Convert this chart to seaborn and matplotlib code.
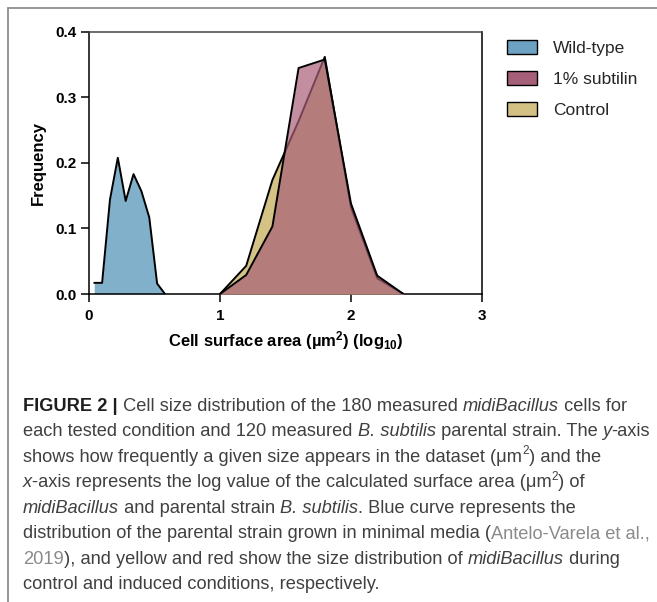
import numpy as np
import pandas as pd
import matplotlib
matplotlib.use("Agg")
import matplotlib.pyplot as plt
import seaborn as sns
from matplotlib.patches import Patch
from matplotlib.lines import Line2D
from matplotlib.font_manager import FontProperties

# ---------------- data ----------------
wt_x = [0.04, 0.10, 0.16, 0.22, 0.28, 0.34, 0.40, 0.46, 0.52, 0.58]
wt_y = [0.017, 0.017, 0.144, 0.208, 0.142, 0.183, 0.157, 0.117, 0.016, 0.0]

ctl_x = [1.0, 1.2, 1.4, 1.6, 1.8, 2.0, 2.2, 2.4]
ctl_y = [0.0, 0.043, 0.174, 0.264, 0.362, 0.132, 0.024, 0.0]

sub_x = [1.0, 1.2, 1.4, 1.6, 1.8, 2.0, 2.2, 2.4]
sub_y = [0.0, 0.029, 0.103, 0.345, 0.358, 0.138, 0.028, 0.0]

series_labels = ["Wild-type", "1% subtilin", "Control"]
x_ticks = [0, 1, 2, 3]
y_ticks = [0.0, 0.1, 0.2, 0.3, 0.4]
y_tick_labels = ["0.0", "0.1", "0.2", "0.3", "0.4"]

# ---------------- style ----------------
sns.set_theme(style="ticks")
plt.rcParams["font.family"] = ["Liberation Sans", "DejaVu Sans"]
plt.rcParams["mathtext.fontset"] = "custom"
plt.rcParams["mathtext.rm"] = "Liberation Sans"
plt.rcParams["mathtext.bf"] = "Liberation Sans:bold"
plt.rcParams["mathtext.it"] = "Liberation Sans:italic"

W, H = 657, 602
fig = plt.figure(figsize=(W / 100, H / 100), dpi=100)
fig.patch.set_facecolor("white")

# frame of the figure panel (gray top and left rule)
frame_col = "#8e8e8e"
fig.add_artist(Line2D([8 / W, 8 / W], [1 - 8 / H, 0], transform=fig.transFigure,
                      color=frame_col, lw=1.3))
fig.add_artist(Line2D([8 / W, 1], [1 - 8 / H, 1 - 8 / H], transform=fig.transFigure,
                      color=frame_col, lw=1.3))

ax = fig.add_axes([89 / W, 1 - 294 / H, 393 / W, 262 / H])
ax.set_facecolor("white")

blue = "#80b0ca"
yellow = "#d5c386"
red = "#a85f78"

# Wild-type
ax.fill_between(wt_x, wt_y, 0, color=blue, lw=0, zorder=2)
sns.lineplot(x=wt_x, y=wt_y, ax=ax, color="black", lw=1.4, sort=False,
             estimator=None, zorder=3)
# Control
ax.fill_between(ctl_x, ctl_y, 0, color=yellow, lw=0, zorder=4)
sns.lineplot(x=ctl_x, y=ctl_y, ax=ax, color="black", lw=1.4, sort=False,
             estimator=None, zorder=5)
# 1% subtilin
ax.fill_between(sub_x, sub_y, 0, color=red, alpha=0.7, lw=0, zorder=6)
sns.lineplot(x=sub_x, y=sub_y, ax=ax, color="black", lw=1.4, sort=False,
             estimator=None, zorder=7)

ax.set_xlim(0, 3)
ax.set_ylim(0, 0.4)
ax.set_xticks(x_ticks)
ax.set_xticklabels([str(v) for v in x_ticks])
ax.set_yticks(y_ticks)
ax.set_yticklabels(y_tick_labels)
for s in ax.spines.values():
    s.set_visible(True)
    s.set_color("black")
    s.set_linewidth(1.1)
ax.spines["top"].set_color("#444444")
ax.tick_params(direction="out", length=6, width=1.1, colors="black",
               labelsize=11)
ax.tick_params(axis="x", pad=5)
ax.tick_params(axis="y", pad=3)
for lbl in ax.get_xticklabels() + ax.get_yticklabels():
    lbl.set_fontweight("bold")

ax.set_xlabel(r"Cell surface area (µm$^{\mathbf{2}}$) (log$_{\mathbf{10}}$)",
              fontsize=12, fontweight="bold", color="black")
ax.set_ylabel("Frequency", fontsize=12, fontweight="bold", color="black")
ax.xaxis.set_label_coords(0.5, (294 - 329) / 262)
ax.yaxis.set_label_coords((46 - 89) / 393, 0.5)

# legend
handles = [Patch(facecolor="#6ea2c2", edgecolor="black", lw=1.0, label=series_labels[0]),
           Patch(facecolor="#a65f79", edgecolor="black", lw=1.0, label=series_labels[1]),
           Patch(facecolor="#d3c083", edgecolor="black", lw=1.0, label=series_labels[2])]
fig.legend(handles=handles, loc="upper left", bbox_to_anchor=(507 / W, 1 - 40 / H),
           frameon=False, fontsize=12.5, handlelength=1.7, handleheight=0.85,
           handletextpad=0.95, labelspacing=0.88, borderpad=0, borderaxespad=0)

# ---------------- caption ----------------
renderer = fig.canvas.get_renderer()
base_col = "#404040"
link_col = "#8a8a8a"


def props(style, size):
    if style == "b":
        return FontProperties(family="Liberation Sans", weight="bold", size=size)
    if style == "i":
        return FontProperties(family="Liberation Sans", style="italic", size=size)
    if style == "sup":
        return FontProperties(family="Liberation Sans", size=size * 0.65)
    return FontProperties(family="Liberation Sans", size=size)


def width(text, fp):
    w1, _, _ = renderer.get_text_width_height_descent("x" + text + "x", fp, ismath=False)
    w0, _, _ = renderer.get_text_width_height_descent("xx", fp, ismath=False)
    return w1 - w0


lines = [
    [("FIGURE 2 |", "b"), (" Cell size distribution of the 180 measured ", "n"),
     ("midiBacillus", "i"), (" cells for", "n")],
    [("each tested condition and 120 measured ", "n"), ("B. subtilis", "i"),
     (" parental strain. The ", "n"), ("y", "i"), ("-axis", "n")],
    [("shows how frequently a given size appears in the dataset (μm", "n"), ("2", "sup"),
     (") and the", "n")],
    [("x", "i"), ("-axis represents the log value of the calculated surface area (μm", "n"),
     ("2", "sup"), (") of", "n")],
    [("midiBacillus", "i"), (" and parental strain ", "n"), ("B. subtilis", "i"),
     (". Blue curve represents the", "n")],
    [("distribution of the parental strain grown in minimal media (", "n"),
     ("Antelo-Varela et al.,", "link")],
    [("2019", "link"), ("), and yellow and red show the size distribution of ", "n"),
     ("midiBacillus", "i"), (" during", "n")],
    [("control and induced conditions, respectively.", "n")],
]

# fit the font size so the second line spans the measured width
trial = 12.0
tw = sum(width(t, props("n" if s == "link" else s, trial)) for t, s in lines[1])
cap_size = trial * (628 / tw)

x0 = 23
base0 = 411
step = 25.45
for i, segs in enumerate(lines):
    x = x0
    yb = base0 + i * step
    for text, style in segs:
        st = "n" if style == "link" else style
        fp = props(st, cap_size)
        col = link_col if style == "link" else ("#1e1e1e" if style == "b" else base_col)
        yy = yb - (cap_size * 100 / 72) * 0.42 if style == "sup" else yb
        fig.text(x / W, 1 - yy / H, text, fontproperties=fp, color=col,
                 ha="left", va="baseline")
        x += width(text, fp)

fig.savefig("out.png", dpi=100, facecolor="white")
